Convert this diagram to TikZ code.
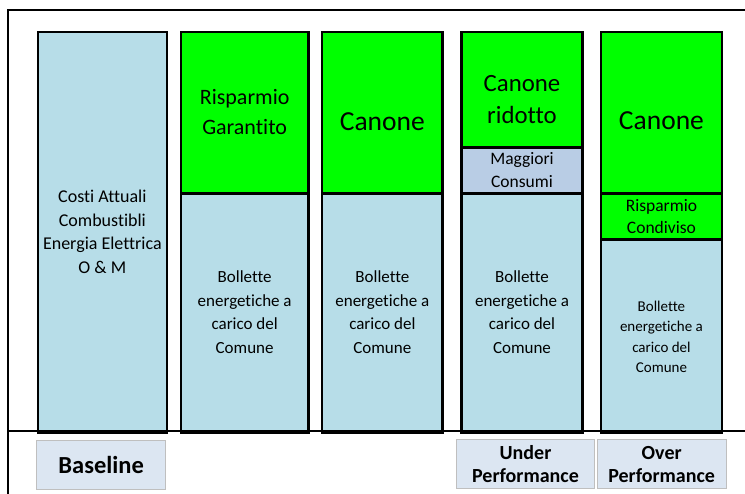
\documentclass[tikz,border=0pt]{standalone}
\usepackage{fontspec}
\setmainfont{Carlito}[Ligatures=NoCommon]
\definecolor{bblue}{HTML}{B7DDE8}
\definecolor{bgreen}{HTML}{00FF00}
\definecolor{bgray}{HTML}{B9CDE5}
\definecolor{lblfill}{HTML}{DCE6F2}
\definecolor{lblline}{HTML}{BFBFBF}
\begin{document}
\begin{tikzpicture}[x=1pt,y=-1pt,
  blk/.style={draw=black, line width=2.7pt, inner sep=0pt, anchor=north west, rectangle},
  lbl/.style={draw=lblline, fill=lblfill, line width=1pt, inner sep=0pt, anchor=north west, rectangle, align=center, font=\bfseries},
  txt/.style={inner sep=0pt, align=center},
  frame/.style={draw=black, line width=2pt}]
\useasboundingbox (0,0) rectangle (745,494);
% frame
\coordinate (fTL) at (8.3,10.3);
\coordinate (fTR) at (745,10.3);
\coordinate (fML) at (8.3,431.3);
\coordinate (fMR) at (745,431.3);
\coordinate (fBL) at (8.3,494);
% bar 1
\node[blk, fill=bblue, minimum width=129pt, minimum height=400.6pt] (b1) at (36.5,30.7) {};
% bar 2
\node[blk, fill=bgreen, minimum width=127.4pt, minimum height=161.3pt] (b2g) at (179.6,30.7) {};
\node[blk, fill=bblue, minimum width=127.4pt, minimum height=239.3pt] (b2b) at (179.6,192) {};
% bar 3
\node[blk, fill=bgreen, minimum width=120.6pt, minimum height=161.3pt] (b3g) at (320.7,30.7) {};
\node[blk, fill=bblue, minimum width=120.6pt, minimum height=239.3pt] (b3b) at (320.7,192) {};
% bar 4
\node[blk, fill=bgreen, minimum width=120.7pt, minimum height=115.6pt] (b4g) at (460.3,30.7) {};
\node[blk, fill=bgray, minimum width=120.7pt, minimum height=45.7pt] (b4m) at (460.3,146.3) {};
\node[blk, fill=bblue, minimum width=120.7pt, minimum height=239.3pt] (b4b) at (460.3,192) {};
% bar 5
\node[blk, fill=bgreen, minimum width=120.8pt, minimum height=161.3pt] (b5g) at (599.7,30.7) {};
\node[blk, fill=bgreen, minimum width=120.8pt, minimum height=46.3pt] (b5r) at (599.7,192) {};
\node[blk, fill=bblue, minimum width=120.8pt, minimum height=193pt] (b5b) at (599.7,238.3) {};
% frame lines
\draw[frame] (fTR) -- (fTL) -- (fBL);
\draw[frame] (fML) -- (fMR);
% texts
\node[txt, font=\fontsize{18}{23.5}\selectfont] (t1) at (b1.center |- 0,232) {Costi Attuali\\Combustibli\\Energia Elettrica\\O \& M};
\node[txt, font=\fontsize{22}{29.5}\selectfont] (t2g) at (b2g.center |- 0,112) {Risparmio\\Garantito};
\node[txt, font=\fontsize{17}{23.5}\selectfont] (t2b) at (b2b.center |- 0,312) {Bollette\\energetiche a\\carico del\\Comune};
\node[txt, anchor=base, font=\fontsize{27.5}{33}\selectfont] (t3g) at (b3g.center |- 0,130.5) {Canone};
\node[txt, font=\fontsize{17}{23.5}\selectfont] (t3b) at (b3b.center |- 0,312) {Bollette\\energetiche a\\carico del\\Comune};
\node[txt, font=\fontsize{24.8}{32}\selectfont] (t4g) at (b4g.center |- 0,99.5) {Canone\\ridotto};
\node[txt, font=\fontsize{17.5}{22.3}\selectfont] (t4m) at (b4m.center |- 0,170) {Maggiori\\Consumi};
\node[txt, font=\fontsize{17}{23.5}\selectfont] (t4b) at (b4b.center |- 0,312) {Bollette\\energetiche a\\carico del\\Comune};
\node[txt, anchor=base, font=\fontsize{27.5}{33}\selectfont] (t5g) at (b5g.center |- 0,129.5) {Canone};
\node[txt, font=\fontsize{17.5}{22.3}\selectfont] (t5r) at (b5r.center |- 0,216.5) {Risparmio\\Condiviso};
\node[txt, font=\fontsize{15}{20.4}\selectfont] (t5b) at (b5b.center |- 0,337) {Bollette\\energetiche a\\carico del\\Comune};
% labels
\node[lbl, minimum width=129.3pt, minimum height=48.4pt, font=\bfseries\fontsize{24.5}{28}\selectfont] (lb) at (36,440.3) {Baseline};
\node[lbl, minimum width=138pt, minimum height=49pt, font=\bfseries\fontsize{20}{23.3}\selectfont] (lu) at (456,439.3) {Under\\Performance};
\node[lbl, minimum width=129pt, minimum height=49pt, font=\bfseries\fontsize{20}{23.3}\selectfont] (lo) at (596.7,439.3) {Over\\Performance};
\end{tikzpicture}
\end{document}
